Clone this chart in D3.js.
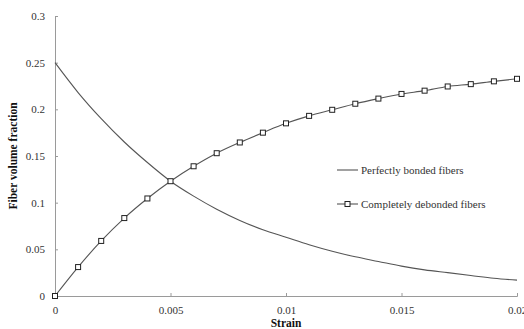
<!DOCTYPE html>
<html>
<head>
<meta charset="utf-8">
<script src="https://cdn.jsdelivr.net/npm/d3@7/dist/d3.min.js"></script>
<style>
  html, body { margin: 0; padding: 0; background: #fff; }
  svg { display: block; }
  text { font-family: "Liberation Serif", "Times New Roman", serif; }
</style>
</head>
<body>
<svg id="chart" width="524" height="329"></svg>
<script>
// Strain samples (every 0.001)
const strain = [0, 0.001, 0.002, 0.003, 0.004, 0.005, 0.006, 0.007, 0.008, 0.009, 0.010,
                0.011, 0.012, 0.013, 0.014, 0.015, 0.016, 0.017, 0.018, 0.019, 0.020];
// Fiber volume fraction, perfectly bonded fibers
const bonded = [0.250, 0.218, 0.190, 0.165, 0.143, 0.123, 0.107, 0.093, 0.081, 0.071, 0.063,
                0.055, 0.048, 0.042, 0.037, 0.032, 0.028, 0.025, 0.022, 0.019, 0.017];
// Fiber volume fraction, completely debonded fibers
const debonded = [0.000, 0.031, 0.059, 0.0835, 0.1045, 0.123, 0.139, 0.153, 0.1645, 0.175, 0.185,
                  0.193, 0.1995, 0.206, 0.2115, 0.2165, 0.220, 0.2245, 0.227, 0.230, 0.2327];
const xTicks = [0, 0.005, 0.01, 0.015, 0.02];
const yTicks = [0, 0.05, 0.1, 0.15, 0.2, 0.25, 0.3];
const seriesNames = ["Perfectly bonded fibers", "Completely debonded fibers"];

const svg = d3.select("#chart");
const margin = { left: 55, right: 7, top: 16, bottom: 33 };
const W = 524, H = 329;

const x = d3.scaleLinear().domain([0, 0.02]).range([margin.left, W - margin.right]);
const y = d3.scaleLinear().domain([0, 0.3]).range([H - margin.bottom, margin.top]);

const axisColor = "#9a9a9a";
const lineColor = "#555";
const textColor = "#333";

// Axes with inward ticks
const xAxis = svg.append("g")
  .attr("transform", `translate(0,${y(0)})`)
  .call(d3.axisBottom(x).tickValues(xTicks).tickSize(-3).tickPadding(10)
        .tickFormat(d => d === 0 ? "0" : String(+d.toFixed(3))));
const yAxis = svg.append("g")
  .attr("transform", `translate(${x(0)},0)`)
  .call(d3.axisLeft(y).tickValues(yTicks).tickSize(-3).tickPadding(10)
        .tickFormat(d => d === 0 ? "0" : String(+d.toFixed(2))));

[xAxis, yAxis].forEach(g => {
  g.select(".domain").attr("stroke", axisColor);
  g.selectAll(".tick line").attr("stroke", axisColor);
  g.selectAll(".tick text").attr("fill", textColor).style("font-size", "11px")
    .style("font-family", "'Liberation Serif', 'Times New Roman', serif");
});

// Axis titles
svg.append("text")
  .attr("x", x(0.01)).attr("y", 327)
  .attr("text-anchor", "middle")
  .attr("font-weight", "bold").attr("font-size", "11.5px").attr("fill", "#111")
  .text("Strain");
svg.append("text")
  .attr("transform", `translate(17,${y(0.15)}) rotate(-90)`)
  .attr("text-anchor", "middle")
  .attr("font-weight", "bold").attr("font-size", "11.5px").attr("fill", "#111")
  .text("Fiber volume fraction");

const line = d3.line().x(d => x(d[0])).y(d => y(d[1])).curve(d3.curveMonotoneX);

const bondedPts = strain.map((s, i) => [s, bonded[i]]);
const debondedPts = strain.map((s, i) => [s, debonded[i]]);

svg.append("path").datum(bondedPts)
  .attr("fill", "none").attr("stroke", lineColor).attr("stroke-width", 1.1)
  .attr("d", line);

svg.append("path").datum(debondedPts)
  .attr("fill", "none").attr("stroke", lineColor).attr("stroke-width", 1.1)
  .attr("d", line);

const ms = 5;
svg.append("g").selectAll("rect").data(debondedPts).join("rect")
  .attr("x", d => x(d[0]) - ms / 2).attr("y", d => y(d[1]) - ms / 2)
  .attr("width", ms).attr("height", ms)
  .attr("fill", "#fff").attr("stroke", "#222").attr("stroke-width", 1);

// Legend
const lg = svg.append("g");
const lx0 = 337, lx1 = 358, ly = [170, 204];
lg.append("line").attr("x1", lx0).attr("x2", lx1).attr("y1", ly[0]).attr("y2", ly[0])
  .attr("stroke", lineColor).attr("stroke-width", 1.1);
lg.append("line").attr("x1", lx0).attr("x2", lx1).attr("y1", ly[1]).attr("y2", ly[1])
  .attr("stroke", lineColor).attr("stroke-width", 1.1);
lg.append("rect").attr("x", (lx0 + lx1) / 2 - ms / 2).attr("y", ly[1] - ms / 2)
  .attr("width", ms).attr("height", ms)
  .attr("fill", "#fff").attr("stroke", "#222").attr("stroke-width", 1);
seriesNames.forEach((name, i) => {
  lg.append("text").attr("x", 361).attr("y", ly[i]).attr("dy", "0.35em")
    .attr("font-size", "11px").attr("fill", textColor).text(name);
});
</script>
</body>
</html>
